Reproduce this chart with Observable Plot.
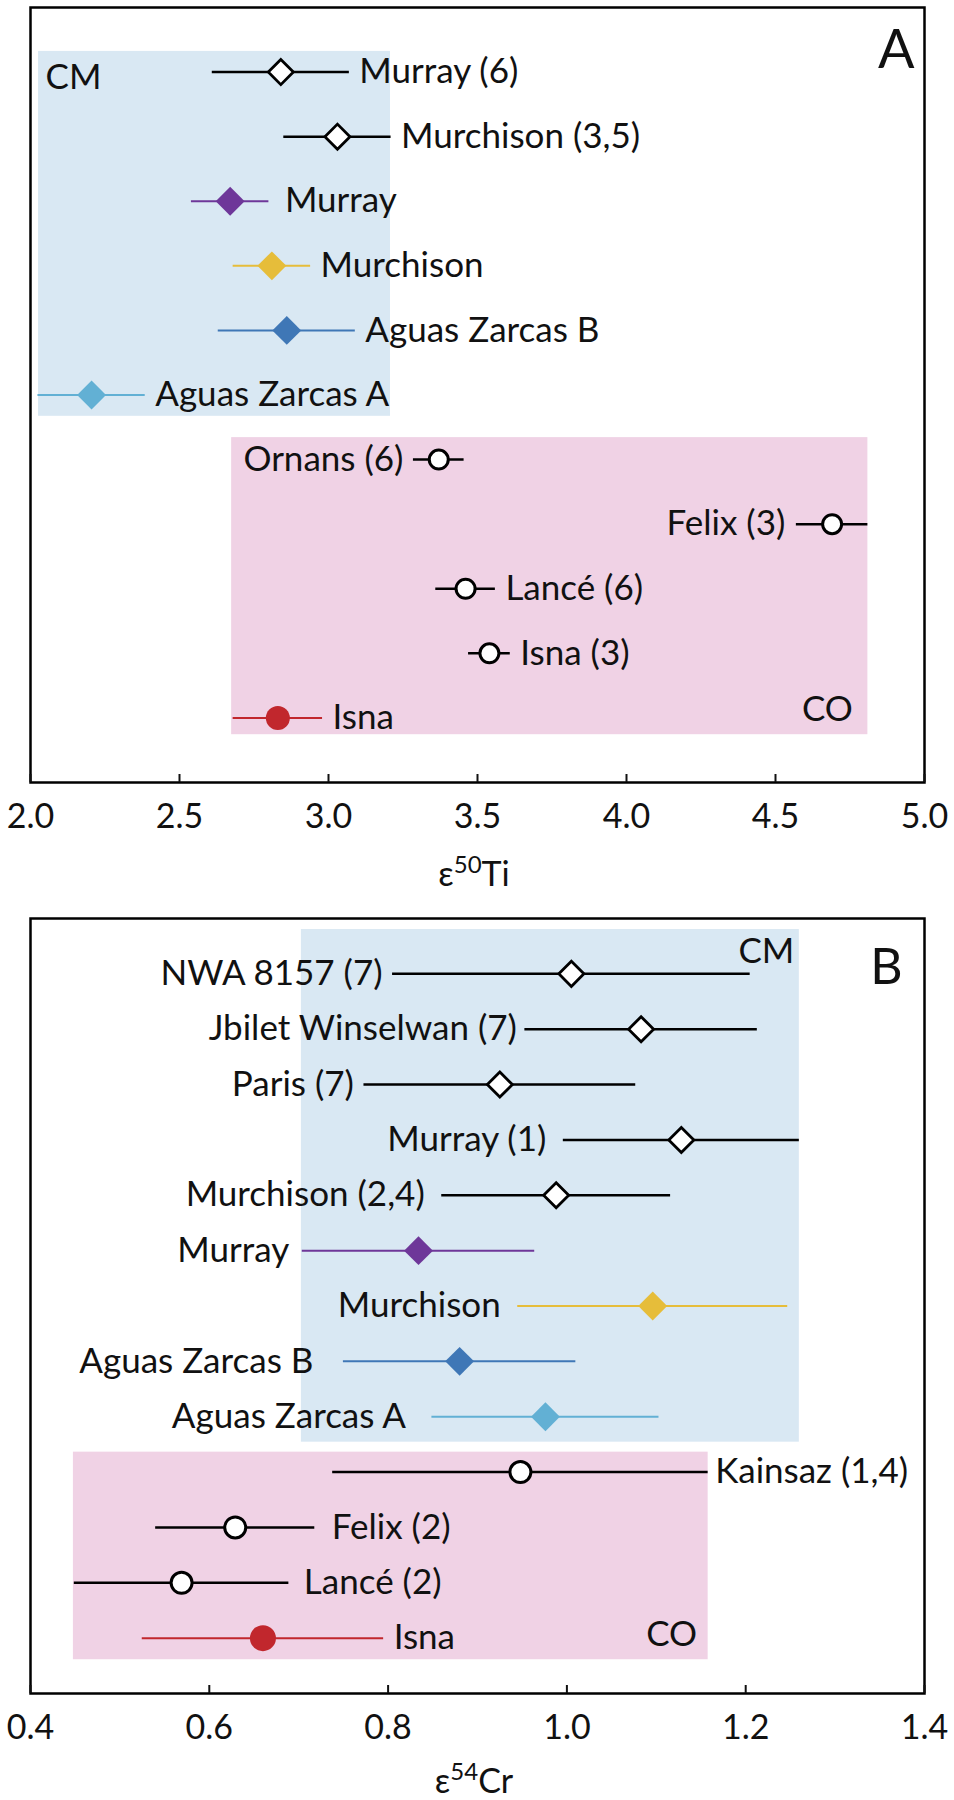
<!DOCTYPE html>
<html>
<head>
<meta charset="utf-8">
<script src="https://cdn.jsdelivr.net/npm/d3@7"></script>
<script src="https://cdn.jsdelivr.net/npm/@observablehq/plot@0.6"></script>
<style>
  html, body { margin: 0; padding: 0; background: white; overflow: hidden; }
  #chart > * { display: block; }
</style>
</head>
<body>
<div id="chart"></div>
<script>
// ---------------- Panel A: ε50Ti ----------------
const namesA  = ["Murray (6)", "Murchison (3,5)", "Murray", "Murchison", "Aguas Zarcas B", "Aguas Zarcas A",
                 "Ornans (6)", "Felix (3)", "Lancé (6)", "Isna (3)", "Isna"];
const valuesA = [2.84, 3.03, 2.67, 2.81, 2.86, 2.205, 3.37, 4.69, 3.46, 3.54, 2.83];
const errorsA = [0.23, 0.18, 0.13, 0.13, 0.23, 0.18, 0.085, 0.12, 0.10, 0.07, 0.15];
const groupsA = ["CM", "CM", "CM", "CM", "CM", "CM", "CO", "CO", "CO", "CO", "CO"];
const colorsA = ["black", "black", "#6e3799", "#e6bd3a", "#3f77b6", "#62b0d4", "black", "black", "black", "black", "#c1272d"];
const sidesA  = ["right", "right", "right", "right", "right", "right", "left", "left", "right", "right", "right"];
const ticksA  = [2.0, 2.5, 3.0, 3.5, 4.0, 4.5, 5.0];
const boxesA  = [
  {group: "CM", x1: 2.027, x2: 3.208, y1: -0.32, y2: 5.33},
  {group: "CO", x1: 2.675, x2: 4.81, y1: 5.66, y2: 10.26}
];

// ---------------- Panel B: ε54Cr ----------------
const namesB  = ["NWA 8157 (7)", "Jbilet Winselwan (7)", "Paris (7)", "Murray (1)", "Murchison (2,4)", "Murray",
                 "Murchison", "Aguas Zarcas B", "Aguas Zarcas A", "Kainsaz (1,4)", "Felix (2)", "Lancé (2)", "Isna"];
const valuesB = [1.005, 1.083, 0.925, 1.128, 0.988, 0.834, 1.096, 0.88, 0.976, 0.948, 0.629, 0.569, 0.66];
const errorsB = [0.20, 0.13, 0.152, 0.132, 0.128, 0.13, 0.151, 0.13, 0.127, 0.21, 0.089, 0.12, 0.135];
const groupsB = ["CM", "CM", "CM", "CM", "CM", "CM", "CM", "CM", "CM", "CO", "CO", "CO", "CO"];
const colorsB = ["black", "black", "black", "black", "black", "#6e3799", "#e6bd3a", "#3f77b6", "#62b0d4",
                 "black", "black", "black", "#c1272d"];
const sidesB  = ["left", "left", "left", "left", "left", "left", "left", "left", "left", "right", "right", "right", "right"];
const ticksB  = [0.4, 0.6, 0.8, 1.0, 1.2, 1.4];
const boxesB  = [
  {group: "CM", x1: 0.703, x2: 1.26, y1: -0.80, y2: 8.46},
  {group: "CO", x1: 0.448, x2: 1.158, y1: 8.64, y2: 12.39}
];

// ---------------- styling ----------------
const boxFill = {CM: "#d9e8f3", CO: "#f0d2e5"};
const FONT = "Lato, 'Open Sans', sans-serif";
// label gap (px) between error-bar end and label text, where it differs from the default
const labelGapA = {"Murray": 16, "Felix (3)": 11};
const labelGapB = {"Jbilet Winselwan (7)": 8, "Murray (1)": 17, "Murchison (2,4)": 17, "Murray": 13,
                   "Murchison": 17, "Aguas Zarcas B": 30, "Aguas Zarcas A": 26, "Kainsaz (1,4)": 7, "Felix (2)": 17, "Lancé (2)": 15};

function groupLabelMarks(boxes, specs) {
  return specs.map(s => {
    const b = boxes.find(d => d.group === s.group);
    return Plot.text([b], {
      x: s.anchor === "start" ? "x1" : "x2",
      y: s.top ? "y1" : "y2",
      text: "group", fontSize: 35, fill: "#111", lineAnchor: "middle",
      textAnchor: s.anchor, dx: s.dx, dy: s.dy
    });
  });
}

function labelMarks(rows, gaps) {
  return rows.map(r => {
    const gap = gaps[r.name] ?? 10;
    const right = r.side === "right";
    return Plot.text([r], {
      x: d => right ? d.value + d.err : d.value - d.err,
      y: "i", text: "name",
      textAnchor: right ? "start" : "end",
      dx: right ? gap : -gap,
      fontSize: 35, fill: "#111"
    });
  });
}

function buildPanel(cfg) {
  const rows = cfg.names.map((name, i) => ({
    name, i, value: cfg.values[i], err: cfg.errors[i], group: cfg.groups[i],
    color: cfg.colors[i], side: cfg.sides[i], open: cfg.colors[i] === "black"
  }));
  const openRows = rows.filter(d => d.open);
  const fillRows = rows.filter(d => !d.open);
  const n = rows.length;
  return Plot.plot({
    width: 954,
    height: cfg.height,
    marginLeft: 30,
    marginRight: 30,
    marginTop: cfg.marginTop,
    marginBottom: cfg.marginBottom,
    style: {fontFamily: FONT, fontSize: "35px", color: "#111", background: "white"},
    x: {domain: cfg.xDomain},
    y: {domain: [-1, n], reverse: true, axis: null},
    color: {type: "identity"},
    marks: [
      Plot.rect(cfg.boxes, {x1: "x1", x2: "x2", y1: "y1", y2: "y2", fill: d => boxFill[d.group]}),
      Plot.ruleY(openRows, {y: "i", x1: d => d.value - d.err, x2: d => d.value + d.err, stroke: "black", strokeWidth: 2.5}),
      Plot.ruleY(fillRows, {y: "i", x1: d => d.value - d.err, x2: d => d.value + d.err, stroke: "color", strokeWidth: 2}),
      Plot.dot(rows.filter(d => d.open && d.group === "CM"), {x: "value", y: "i", symbol: "diamond2", r: 11.3, fill: "white", stroke: "black", strokeWidth: 2.8}),
      Plot.dot(rows.filter(d => !d.open && d.group === "CM"), {x: "value", y: "i", symbol: "diamond2", r: 13, fill: "color", stroke: "none"}),
      Plot.dot(rows.filter(d => d.open && d.group === "CO"), {x: "value", y: "i", r: cfg.circleR, fill: "white", stroke: "black", strokeWidth: 3}),
      Plot.dot(rows.filter(d => !d.open && d.group === "CO"), {x: "value", y: "i", r: cfg.circleR + 2.5, fill: "color", stroke: "none"}),
      ...labelMarks(rows, cfg.gaps),
      ...groupLabelMarks(cfg.boxes, cfg.groupSpecs),
      Plot.frame({stroke: "black", strokeWidth: 2.5}),
      Plot.axisX({ticks: cfg.ticks, tickFormat: d3.format(".1f"), tickSize: -8, tickPadding: 29, strokeWidth: 2, fontSize: 34, fill: "#111", label: null}),
      Plot.text([cfg.letter], {frameAnchor: "top-right", lineAnchor: "middle", dx: cfg.letterDx, dy: cfg.letterDy, fontSize: cfg.letterSize, fill: "#111"})
    ]
  });
}

function addAxisTitle(svg, y, base, sup, rest) {
  const t = d3.select(svg).append("text")
    .attr("x", 474).attr("y", y)
    .attr("text-anchor", "middle")
    .attr("font-family", FONT)
    .attr("font-size", 34)
    .attr("fill", "#111");
  t.append("tspan").text(base);
  t.append("tspan").attr("dy", -13).attr("font-size", 24).text(sup);
  t.append("tspan").attr("dy", 13).text(rest);
}

const svgA = buildPanel({
  names: namesA, values: valuesA, errors: errorsA, groups: groupsA, colors: colorsA, sides: sidesA,
  boxes: boxesA, ticks: ticksA, xDomain: [2, 5], gaps: labelGapA,
  height: 900, marginTop: 7, marginBottom: 118, circleR: 9.5,
  groupSpecs: [
    {group: "CM", anchor: "start", top: true, dx: 7, dy: 26},
    {group: "CO", anchor: "end", top: false, dx: -15, dy: -25}
  ],
  letter: "A", letterDx: -10, letterDy: 43, letterSize: 54
});
addAxisTitle(svgA, 886, "ε", "50", "Ti");

const svgB = buildPanel({
  names: namesB, values: valuesB, errors: errorsB, groups: groupsB, colors: colorsB, sides: sidesB,
  boxes: boxesB, ticks: ticksB, xDomain: [0.4, 1.4], gaps: labelGapB,
  height: 900, marginTop: 18, marginBottom: 107, circleR: 10.5,
  groupSpecs: [
    {group: "CM", anchor: "end", top: true, dx: -5, dy: 22},
    {group: "CO", anchor: "end", top: false, dx: -11, dy: -25}
  ],
  letter: "B", letterDx: -22, letterDy: 49, letterSize: 50
});
addAxisTitle(svgB, 893, "ε", "54", "Cr");

const chart = document.getElementById("chart");
chart.appendChild(svgA);
chart.appendChild(svgB);
</script>
</body>
</html>
